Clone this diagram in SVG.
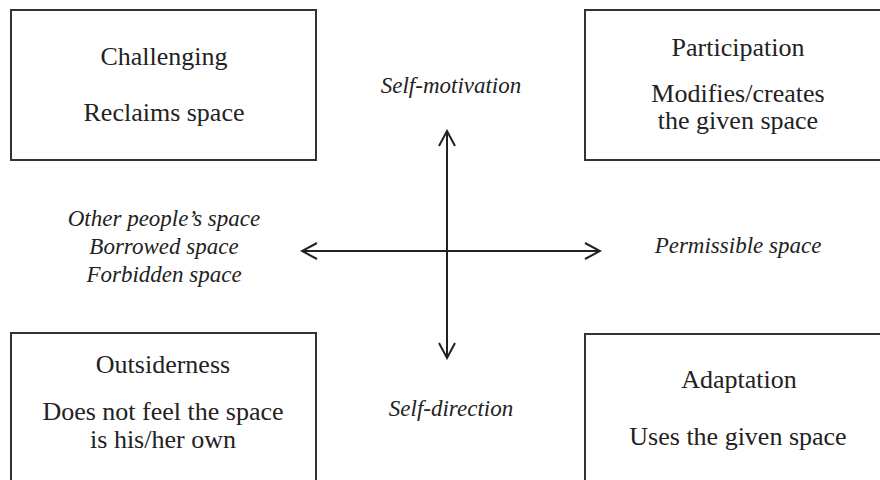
<svg xmlns="http://www.w3.org/2000/svg" width="880" height="480" viewBox="0 0 880 480">
  <defs>
    <style>
      .box { fill: #ffffff; stroke: #333333; stroke-width: 2; }
      .t { font-family: "Liberation Serif", "Times New Roman", serif; font-size: 26px; fill: #222222; text-anchor: middle; }
      .it { font-family: "Liberation Serif", "Times New Roman", serif; font-size: 23px; font-style: italic; fill: #222222; text-anchor: middle; }
      .axis { stroke: #222222; stroke-width: 2; fill: none; }
    </style>
    <marker id="chev" viewBox="0 0 18 20" refX="16" refY="10" markerWidth="18" markerHeight="20" markerUnits="userSpaceOnUse" orient="auto-start-reverse">
      <path d="M1,2 L16,10 L1,18" fill="none" stroke="#222222" stroke-width="2"/>
    </marker>
  </defs>
  <rect width="880" height="480" fill="#ffffff"/>

  <g id="challenging">
    <rect class="box" x="11" y="10" width="305" height="150"/>
    <text class="t" x="164" y="65">Challenging</text>
    <text class="t" x="164" y="121">Reclaims space</text>
  </g>

  <g id="participation">
    <rect class="box" x="585" y="10" width="310" height="150"/>
    <text class="t" x="738" y="56">Participation</text>
    <text class="t" x="738" y="102">Modifies/creates</text>
    <text class="t" x="738" y="129">the given space</text>
  </g>

  <g id="outsiderness">
    <rect class="box" x="11" y="333" width="305" height="160"/>
    <text class="t" x="163" y="373">Outsiderness</text>
    <text class="t" x="163" y="420">Does not feel the space</text>
    <text class="t" x="163" y="448">is his/her own</text>
  </g>

  <g id="adaptation">
    <rect class="box" x="585" y="334" width="310" height="160"/>
    <text class="t" x="739" y="388">Adaptation</text>
    <text class="t" x="738" y="445">Uses the given space</text>
  </g>

  <g id="labels">
    <text class="it" x="451" y="93">Self-motivation</text>
    <text class="it" x="451" y="416">Self-direction</text>
    <text class="it" x="738" y="253">Permissible space</text>
    <text class="it" x="164" y="226">Other people’s space</text>
    <text class="it" x="164" y="254">Borrowed space</text>
    <text class="it" x="164" y="282">Forbidden space</text>
  </g>

  <g id="connectors">
    <line class="axis" x1="447" y1="358" x2="447" y2="131" marker-start="url(#chev)" marker-end="url(#chev)"/>
    <line class="axis" x1="302" y1="251" x2="600" y2="251" marker-start="url(#chev)" marker-end="url(#chev)"/>
  </g>
</svg>
